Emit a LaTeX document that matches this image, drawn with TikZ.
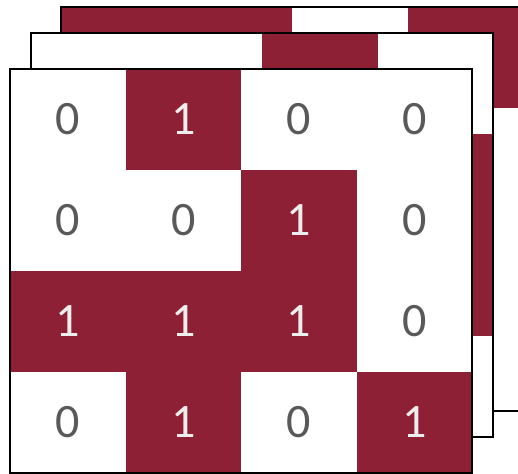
\documentclass[tikz,border=0pt]{standalone}
\usepackage{fontspec}
\setmainfont{Carlito}
\usetikzlibrary{positioning}
\definecolor{bitred}{HTML}{8E2035}
\definecolor{zerogray}{HTML}{595959}
\definecolor{onegray}{HTML}{EDEDED}
\colorlet{bitfill0}{white}
\colorlet{bitfill1}{bitred}
\colorlet{bittext0}{zerogray}
\colorlet{bittext1}{onegray}
\tikzset{
	layer/.style={draw=black, line width=2pt},
	cell/.style={rectangle, inner sep=0pt, minimum width=115.5pt, minimum height=101pt, font=\fontsize{48}{48}\selectfont},
	bit/.style={cell, fill=bitfill#1, text=bittext#1}
}
% one hidden layer of the stack: origin, list of dark cells row/col
\newcommand{\backlayer}[2]{%
	\begin{scope}[shift={#1}]
		\fill[white] (0,0) rectangle (462,404);
		\foreach \r/\c in {#2}
			\fill[bitred] ({\c*115.5},{\r*101}) rectangle ++(115.5,101);
		\draw[layer] (0,0) rectangle (462,404);
	\end{scope}}

\begin{document}
\begin{tikzpicture}[x=1pt, y=-1pt]
	\useasboundingbox (0,0) rectangle (518,473);

	\backlayer{(61,7)}{0/0, 0/1, 0/3}
	\backlayer{(31,33)}{0/2, 1/3, 2/3}

	% front layer
	\foreach [count=\r from 0] \rowvals in {{0,1,0,0},{0,0,1,0},{1,1,1,0},{0,1,0,1}}
		\foreach [count=\c from 0] \v in \rowvals
			\node[bit=\v] (cell-\r-\c) at ({67.75+\c*115.5},{119.5+\r*101}) {\v};

	\draw[layer] (cell-0-0.north west) rectangle (cell-3-3.south east);
\end{tikzpicture}
\end{document}
